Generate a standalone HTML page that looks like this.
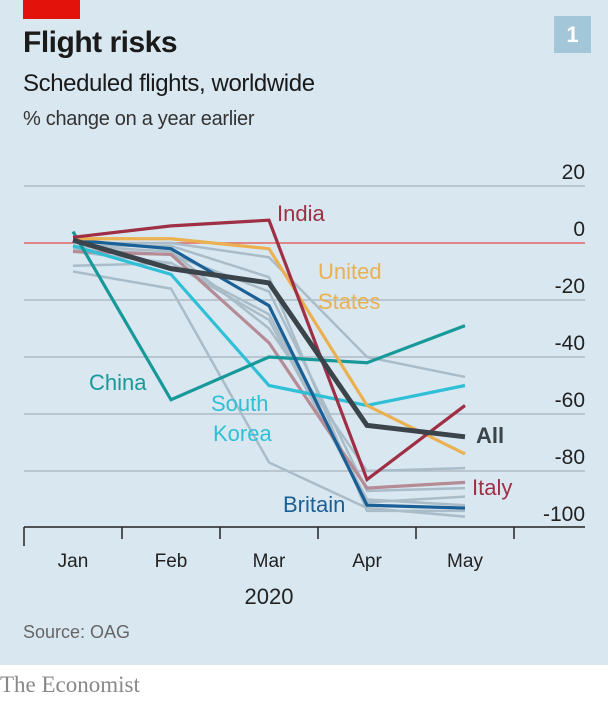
<!DOCTYPE html>
<html><head><meta charset="utf-8"><style>
body{margin:0;width:608px;height:701px;background:#fff;overflow:hidden;font-family:"Liberation Sans",sans-serif}
#panel{position:absolute;left:0;top:0;width:608px;height:665px;background:#d9e7f0}
.t{position:absolute;white-space:nowrap}
</style></head><body>
<div id="panel"></div>
<div class="t" style="left:23px;top:0;width:57px;height:19px;background:#e3120b"></div>
<div class="t" style="left:23px;top:26px;font-size:30px;font-weight:bold;color:#1a1a1a;letter-spacing:-0.5px">Flight risks</div>
<div class="t" style="left:23px;top:70px;font-size:24px;color:#1a1a1a;letter-spacing:-0.4px">Scheduled flights, worldwide</div>
<div class="t" style="left:23px;top:108px;font-size:20px;color:#333;letter-spacing:-0.3px">% change on a year earlier</div>
<div class="t" style="left:554px;top:16px;width:37px;height:37px;background:#a3c6d9;color:#fff;font-weight:bold;font-size:22px;text-align:center;line-height:37px">1</div>
<svg id="chart" width="608" height="665" style="position:absolute;left:0;top:0"></svg>
<div class="t" style="left:23px;top:622px;font-size:18px;color:#666">Source: OAG</div>
<div class="t" style="left:0px;top:672px;font-family:'Liberation Serif',serif;font-size:23px;color:#888">The Economist</div>
<script>
const months=["Jan","Feb","Mar","Apr","May"];
const yTicks=[20,0,-20,-40,-60,-80,-100];
const greyA=[-10,-16,-77,-93,-96];
const greyB=[-8,-7,-25,-90,-92];
const greyC=[0,0,-5,-40,-47];
const greyD=[-1,-3,-30,-80,-79];
const greyE=[-2,-4,-17,-87,-86];
const greyF=[-3,-7,-27,-91,-89];
const greyG=[-1,-1,-12,-94,-94];
const italy=[-3,-4,-35,-86,-84];
const southKorea=[-1,-11,-50,-57,-50];
const china=[4,-55,-40,-42,-29];
const britain=[1,-2,-22,-92,-93];
const unitedStates=[1.5,1.5,-2,-57,-74];
const india=[2,6,8,-83,-57];
const all=[1,-9,-14,-64,-68];
const NS="http://www.w3.org/2000/svg";
const svg=document.getElementById("chart");
const x=i=>73+i*98;
const y=v=>243-v*2.85;
function mk(tag,at){const e=document.createElementNS(NS,tag);for(const k in at)e.setAttribute(k,at[k]);svg.appendChild(e);return e;}
yTicks.forEach(v=>{
 if(v!==0&&v!==-100){const l=mk("line",{x1:24,x2:585,y1:y(v),y2:y(v),stroke:"#b0bcc4","stroke-width":1.5});
 
 }
 const t=mk("text",{x:585,y:y(v)-7,"text-anchor":"end","font-size":21,fill:"#222","font-family":"Liberation Sans, sans-serif"});
 t.textContent=v;
 
 
});
const zl=mk("line",{x1:24,x2:585,y1:y(0),y2:y(0),stroke:"#e06666","stroke-width":1.5});


const series=[
 [greyA,"#a9bcc8",2.5,"grey-series"],[greyB,"#a9bcc8",2.5,"grey-series"],[greyC,"#a9bcc8",2.5,"grey-series"],
 [greyD,"#a9bcc8",2.5,"grey-series"],[greyE,"#a9bcc8",2.5,"grey-series"],[greyF,"#a9bcc8",2.5,"grey-series"],[greyG,"#a9bcc8",2.5,"grey-series"],
 [italy,"#b58b95",3.2,"italy-line"],[southKorea,"#2fbfd6",3.2,"south-korea-line"],[china,"#17999a",3.2,"china-line"],
 [britain,"#1a5f96",3.2,"britain-line"],[unitedStates,"#ebb050",3.2,"united-states-line"],[india,"#9e2f45",3.2,"india-line"],[all,"#3b444b",5,"all-line"]];
series.forEach(s=>{
 const p=mk("polyline",{points:s[0].map((v,i)=>x(i)+","+y(v)).join(" "),fill:"none",stroke:s[1],"stroke-width":s[2],"stroke-linejoin":"miter"});
 
 
});
const ax=mk("line",{x1:24,x2:585,y1:527,y2:527,stroke:"#222","stroke-width":1.5});


for(let i=0;i<6;i++){const tk=mk("line",{x1:24+i*98,x2:24+i*98,y1:527,y2:i===0?546:539,stroke:"#222","stroke-width":1.5});
 
 }
months.forEach((m,i)=>{const t=mk("text",{x:x(i),y:567,"text-anchor":"middle","font-size":19,fill:"#222","font-family":"Liberation Sans, sans-serif"});
 t.textContent=m;
 
 });
const yr=mk("text",{x:269,y:604,"text-anchor":"middle","font-size":22,fill:"#222","font-family":"Liberation Sans, sans-serif"});
yr.textContent="2020";


const labels=[["India",277,221,"#9e2f45","normal"],["United",318,279,"#ebb050","normal"],["States",318,309,"#ebb050","normal"],
 ["China",89,390,"#17999a","normal"],["South",211,411,"#2fbfd6","normal"],["Korea",213,441,"#2fbfd6","normal"],
 ["All",476,443,"#3b444b","bold"],["Italy",472,495,"#9e2f45","normal"],["Britain",283,512,"#1a5f96","normal"]];
labels.forEach(l=>{const t=mk("text",{x:l[1],y:l[2],"font-size":22,fill:l[3],"font-weight":l[4],"font-family":"Liberation Sans, sans-serif"});
 t.textContent=l[0];
 
 });
</script>
</body></html>
